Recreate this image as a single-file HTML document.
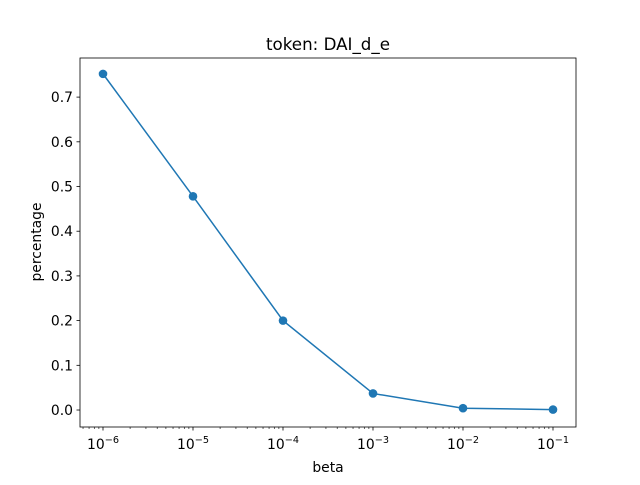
<!DOCTYPE html>
<html><head><meta charset="utf-8"><style>body{margin:0;background:#fff}svg{font-family:"DejaVu Sans","Liberation Sans",sans-serif}</style></head>
<body>
<svg id="chart" width="640" height="480" viewBox="0 0 640 480">
<rect width="640" height="480" fill="#fff"/>
<text x="328" y="50" font-size="16.7" text-anchor="middle">token: DAI_d_e</text>
<g id="axes"></g>
<rect x="80" y="58" width="496" height="369" fill="none" stroke="#000" stroke-width="0.8"/>
<text x="328" y="472" font-size="13.9" text-anchor="middle">beta</text>
<text x="0" y="0" font-size="13.9" text-anchor="middle" transform="translate(41,242) rotate(-90)">percentage</text>
</svg>
<script>
const xExps = [-6, -5, -4, -3, -2, -1];
const yValues = [0.752, 0.478, 0.200, 0.037, 0.004, 0.001];
const yTicks = [0.0, 0.1, 0.2, 0.3, 0.4, 0.5, 0.6, 0.7];
const xTickLabels = ["−6", "−5", "−4", "−3", "−2", "−1"];

const L=80,R=576,T=58,B=427;
const xLmin=-6-23/90, xLmax=-1+23/90;
const yMin=-0.038, yMax=0.7875;
const sx=v=>L+(v-xLmin)/(xLmax-xLmin)*(R-L);
const sy=v=>B-(v-yMin)/(yMax-yMin)*(B-T);
const NS="http://www.w3.org/2000/svg";
const g=document.getElementById('axes');
function mk(t,a){const e=document.createElementNS(NS,t);for(const k in a)e.setAttribute(k,a[k]);g.appendChild(e);return e;}
yTicks.forEach(v=>{
  const y=sy(v);
  const t=mk('line',{x1:L-3.5,x2:L,y1:y,y2:y,stroke:'#000','stroke-width':0.8});
  
  
  const tx=mk('text',{x:L-7,y:y+5,'font-size':13.9,'text-anchor':'end'});
  tx.textContent=v.toFixed(1);
  
  
});
for(let d=-7;d<=0;d++){for(let m=2;m<=9;m++){const lv=d+Math.log10(m);if(lv<xLmin||lv>xLmax)continue;const x=sx(lv);
  const t=mk('line',{x1:x,x2:x,y1:B,y2:B+2,stroke:'#000','stroke-width':0.6});
  
  }}
xExps.forEach((e,i)=>{
  const x=sx(e);
  const t=mk('line',{x1:x,x2:x,y1:B,y2:B+3.5,stroke:'#000','stroke-width':0.8});
  
  
  const tx=mk('text',{x:x,y:B+22,'font-size':13.9,'text-anchor':'middle'});
  tx.textContent='10';
  const sp=document.createElementNS(NS,'tspan');sp.setAttribute('dy','-6');sp.setAttribute('font-size','9.7');sp.textContent=xTickLabels[i];tx.appendChild(sp);
  
  
});
const pts=xExps.map((e,i)=>sx(e)+','+sy(yValues[i])).join(' ');
const pl=mk('polyline',{points:pts,fill:'none',stroke:'#1f77b4','stroke-width':1.5});


xExps.forEach((e,i)=>{
  const c=mk('circle',{cx:sx(e),cy:sy(yValues[i]),r:4.3,fill:'#1f77b4'});
  
  
});
</script>
</body></html>
